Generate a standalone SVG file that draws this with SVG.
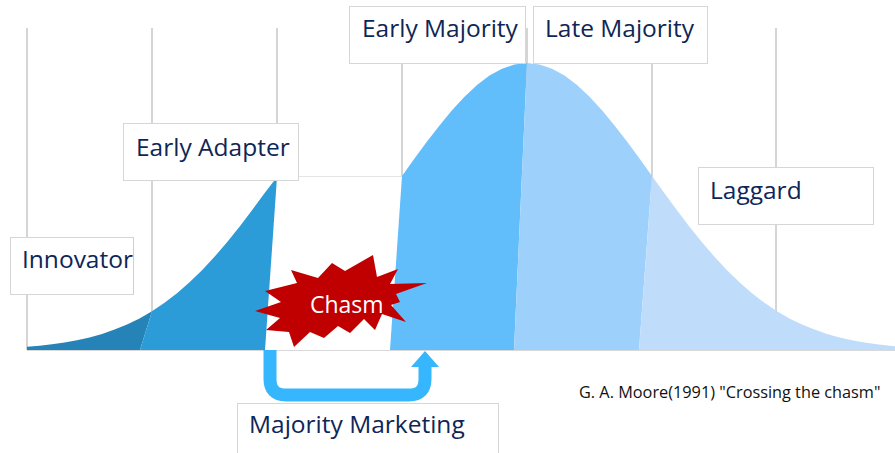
<svg xmlns="http://www.w3.org/2000/svg" width="895" height="453" viewBox="0 0 895 453">
<defs>
<style>
.grid{stroke:#bfbfbf;stroke-width:1.3;fill:none}
.box{fill:#ffffff;stroke:#d6d6d6;stroke-width:1}
.lbl{font-family:"Open Sans","Noto Sans","Liberation Sans",sans-serif;font-size:24.5px;fill:#0e2657}
.cite{font-family:"Open Sans","Noto Sans","Liberation Sans",sans-serif;font-size:16.3px;fill:#111111}
.chasm{font-family:"Open Sans","Noto Sans","Liberation Sans",sans-serif;font-size:23px;fill:#ffffff}
</style>
</defs>
<rect width="895" height="453" fill="#ffffff"/>
<g id="gridlines">
<line class="grid" x1="27" y1="28" x2="27" y2="350"/>
<line class="grid" x1="152" y1="28" x2="152" y2="350"/>
<line class="grid" x1="277" y1="28" x2="277" y2="350"/>
<line class="grid" x1="402" y1="28" x2="402" y2="350"/>
<line class="grid" x1="527" y1="28" x2="527" y2="350"/>
<line class="grid" x1="652" y1="28" x2="652" y2="350"/>
<line class="grid" x1="776" y1="28" x2="776" y2="350"/>
</g>
<g id="gap">
<rect x="268" y="176" width="134" height="174" fill="#ffffff"/>
<line x1="277" y1="176.5" x2="402" y2="176.5" stroke="#e4e4e4" stroke-width="1"/>
<line x1="27" y1="350.5" x2="895" y2="350.5" stroke="#d9d9d9" stroke-width="1"/>
</g>
<g id="innovator-area">
<polygon fill="#2683b8" points="27,350 27,346.8 39.5,345.7 52,344.3 64.5,342.5 77,340.2 89.5,337.4 102,333.9 114.5,329.6 127,324.5 139.5,318.4 152,311.2 140,350"/>
</g>
<g id="early-adapter-area">
<polygon fill="#2c9cd8" points="140,350 152,311.2 164.5,302.8 177,293.2 189.5,282.3 202,270.2 214.5,256.8 227,242.3 239.5,226.7 252,210.3 264.5,193.3 277,177 265,350"/>
</g>
<g id="early-majority-area">
<polygon fill="#62befa" points="390,350 402,175.9 414.5,158.6 427,141.6 439.5,125.4 452,110.3 464.5,96.7 477,85.1 489.5,75.6 502,68.7 514.5,64.4 527,63 514,350"/>
</g>
<g id="late-majority-area">
<polygon fill="#9dd1fc" points="514,350 527,63 539.5,64.4 552,68.7 564.5,75.6 577,85.1 589.5,96.7 602,110.3 614.5,125.4 627,141.6 639.5,158.6 652,175.9 639,350"/>
</g>
<g id="laggard-area">
<polygon fill="#bfddfb" points="639,350 652,175.9 664.5,193.3 677,210.3 689.5,226.7 702,242.3 714.5,256.8 727,270.2 739.5,282.3 752,293.2 764.5,302.8 777,311.2 789.5,318.4 802,324.5 814.5,329.6 827,333.9 839.5,337.4 852,340.2 864.5,342.5 877,344.3 889.5,345.7 895,346.3 895,350"/>
</g>
<g id="chasm">
<polygon fill="#c00000" points="255,311 281,302 265,291 297,283 291,270 318,278 332,263 345,271 373,255 377,277 398,269 390,284 427,283 396,294 400,302 391,305 406,322 382,314 375,330 364,319 350,333 338,326 324,338 310,332 294,347 289,332 266,330 280,318"/>
<text class="chasm" x="310" y="313">Chasm</text>
</g>
<g id="connectors">
<path d="M270,350 V379 Q270,395 286,395 H409 Q425,395 425,379 V365" fill="none" stroke="#35b6fd" stroke-width="13"/>
<polygon fill="#35b6fd" points="411,367 439,367 425,351"/>
</g>
<g id="node-innovator">
<rect class="box" x="10.5" y="237.5" width="123" height="57" stroke="#eeeeee"/>
<line x1="133.5" y1="237" x2="133.5" y2="295" stroke="#cfcfcf"/>
<text class="lbl" x="22" y="268">Innovator</text>
</g>
<g id="node-early-adapter">
<rect class="box" x="123.5" y="123.5" width="175" height="57"/>
<text class="lbl" x="136" y="156">Early Adapter</text>
</g>
<g id="node-early-majority">
<rect class="box" x="349.5" y="6.5" width="176" height="57"/>
<text class="lbl" x="362" y="37">Early Majority</text>
</g>
<g id="node-late-majority">
<rect class="box" x="533.5" y="6.5" width="174" height="57"/>
<text class="lbl" x="545" y="37">Late Majority</text>
</g>
<g id="node-laggard">
<rect class="box" x="698.5" y="167.5" width="175" height="57"/>
<text class="lbl" x="710" y="199">Laggard</text>
</g>
<g id="node-majority-marketing">
<rect class="box" x="237.5" y="403.5" width="261" height="60"/>
<text class="lbl" x="249" y="433">Majority Marketing</text>
</g>
<g id="citation">
<text class="cite" x="579" y="398">G. A. Moore(1991) "Crossing the chasm"</text>
</g>
</svg>
